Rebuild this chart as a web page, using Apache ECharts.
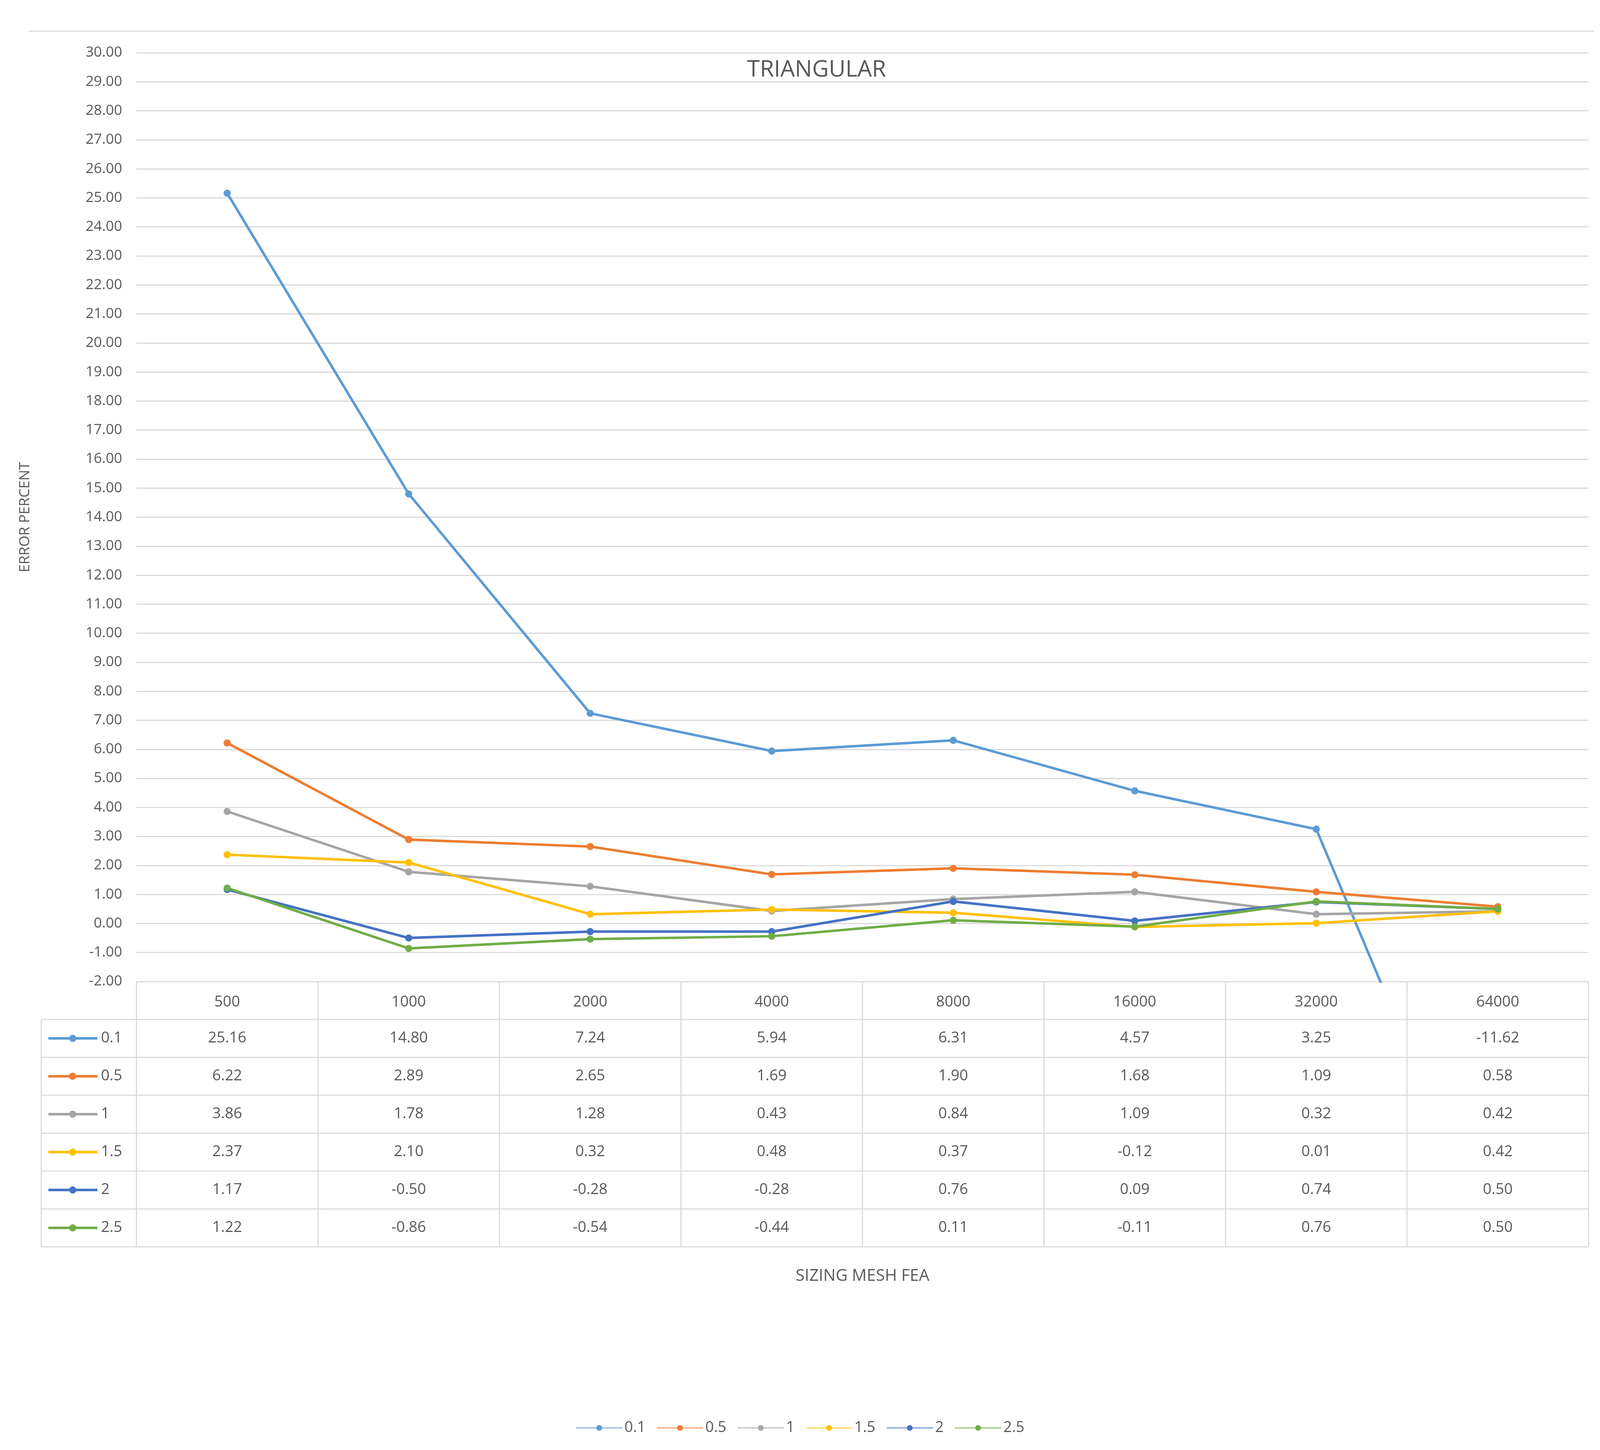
<!DOCTYPE html>
<html>
<head>
<meta charset="utf-8">
<script src="https://cdn.jsdelivr.net/npm/echarts@6/dist/echarts.min.js"></script>
<style>html,body{margin:0;padding:0;background:#fff;overflow:hidden}#chart{width:100vw;height:100vh}</style>
</head>
<body>
<div id="chart"></div>
<script>
var categories = ["500", "1000", "2000", "4000", "8000", "16000", "32000", "64000"];
var seriesNames = ["0.1", "0.5", "1", "1.5", "2", "2.5"];
var s01 = [25.16, 14.80, 7.24, 5.94, 6.31, 4.57, 3.25, -11.62];
var s05 = [6.22, 2.89, 2.65, 1.69, 1.90, 1.68, 1.09, 0.58];
var s1 = [3.86, 1.78, 1.28, 0.43, 0.84, 1.09, 0.32, 0.42];
var s15 = [2.37, 2.10, 0.32, 0.48, 0.37, -0.12, 0.01, 0.42];
var s2 = [1.17, -0.50, -0.28, -0.28, 0.76, 0.09, 0.74, 0.50];
var s25 = [1.22, -0.86, -0.54, -0.44, 0.11, -0.11, 0.76, 0.50];
var allData = [s01, s05, s1, s15, s2, s25];
var colors = ["#5b9bd5", "#ed7d31", "#a5a5a5", "#ffc000", "#4472c4", "#70ad47"];

var font = "Open Sans, Liberation Sans, sans-serif";
var textColor = "#595959";
var lineColor = "#d9d9d9";

var chart = echarts.init(document.getElementById('chart'));
// layout is designed for 4468x3711 and scaled to the real viewport
var W = chart.getWidth(), H = chart.getHeight();
function px(v) { return v * W / 4468; }
function py(v) { return v * H / 3711; }
function fs(v) { return v * Math.min(W / 4468, H / 3711); }

var option = {
  backgroundColor: "#fff",
  color: colors,
  animation: false,
  title: {
    text: "TRIANGULAR",
    left: px(2275), top: py(145), textAlign: "center",
    textStyle: { fontSize: fs(64), fontWeight: "normal", color: textColor, fontFamily: font }
  },
  legend: {
    data: seriesNames,
    left: "center", top: py(3630),
    itemWidth: px(130), itemHeight: fs(20), itemGap: px(30),
    textStyle: { fontSize: fs(42), color: textColor, fontFamily: font }
  },
  grid: { left: px(381), right: px(32), top: py(135), bottom: py(1199) },
  xAxis: {
    type: "category",
    data: categories,
    axisTick: { show: false },
    axisLine: { lineStyle: { color: lineColor, width: fs(3) } },
    axisLabel: { fontSize: fs(42), color: textColor, fontFamily: font, margin: py(34) },
    name: "SIZING MESH FEA",
    nameLocation: "middle",
    nameGap: py(733),
    nameTextStyle: { fontSize: fs(46), color: textColor, fontFamily: font }
  },
  yAxis: {
    type: "value",
    min: -2, max: 30, interval: 1,
    axisLine: { show: false },
    axisTick: { show: false },
    splitLine: { lineStyle: { color: lineColor, width: fs(3) } },
    axisLabel: {
      fontSize: fs(40), color: textColor, fontFamily: font, margin: px(40),
      formatter: function (v) { return v.toFixed(2); }
    },
    name: "ERROR PERCENT",
    nameLocation: "middle",
    nameGap: px(290),
    nameTextStyle: { fontSize: fs(40), color: textColor, fontFamily: font }
  },
  series: seriesNames.map(function (n, i) {
    return {
      name: n, type: "line", data: allData[i],
      symbol: "circle", symbolSize: fs(20),
      lineStyle: { width: fs(7) },
      clip: true
    };
  })
};
chart.setOption(option);

// data table under the plot, positioned from the axis scales
var xs = categories.map(function (c, i) { return chart.convertToPixel({ xAxisIndex: 0 }, i); });
var band = xs[1] - xs[0];
var y0 = chart.convertToPixel({ yAxisIndex: 0 }, -2);
var rowH = py(97);
var plotLeft = xs[0] - band / 2;
var plotRight = xs[xs.length - 1] + band / 2;
var tableLeft = px(115);
var g = [];
function hline(x1, x2, y) {
  g.push({ type: "line", shape: { x1: x1, y1: y, x2: x2, y2: y }, style: { stroke: lineColor, lineWidth: fs(3) } });
}
function vline(x, y1, y2) {
  g.push({ type: "line", shape: { x1: x, y1: y1, x2: x, y2: y2 }, style: { stroke: lineColor, lineWidth: fs(3) } });
}
for (var k = 1; k <= 7; k++) hline(tableLeft, plotRight, y0 + rowH * k);
for (var i = 0; i <= categories.length; i++) vline(plotLeft + band * i, y0, y0 + rowH * 7);
vline(tableLeft, y0 + rowH, y0 + rowH * 7);
allData.forEach(function (arr, r) {
  var cy = y0 + rowH * (r + 1.5);
  g.push({ type: "line", shape: { x1: px(135), y1: cy, x2: px(272), y2: cy }, style: { stroke: colors[r], lineWidth: fs(7) } });
  g.push({ type: "circle", shape: { cx: px(203), cy: cy, r: fs(10) }, style: { fill: colors[r] } });
  g.push({ type: "text", x: px(282), y: cy, style: { text: seriesNames[r], fontSize: fs(42), fill: textColor, fontFamily: font, verticalAlign: "middle" } });
  arr.forEach(function (v, c) {
    g.push({ type: "text", x: xs[c], y: cy, style: { text: v.toFixed(2), fontSize: fs(42), fill: textColor, fontFamily: font, align: "center", verticalAlign: "middle" } });
  });
});
// top border line of the chart area
hline(px(80), px(4450), py(80));
chart.setOption({ graphic: g });
</script>
</body>
</html>
